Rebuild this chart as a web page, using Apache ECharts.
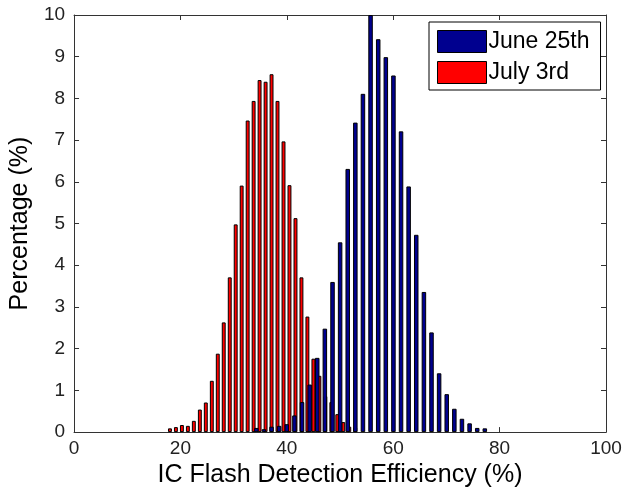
<!DOCTYPE html>
<html>
<head>
<meta charset="utf-8">
<script src="https://cdn.jsdelivr.net/npm/echarts@6/dist/echarts.min.js"></script>
<style>
html,body{margin:0;padding:0;background:#fff;}
#chart{width:631px;height:493px;}
</style>
</head>
<body>
<div id="chart"></div>
<script>
// Series names
const seriesNames = ['June 25th', 'July 3rd'];

// July 3rd histogram (bin centres in %, percentage values)
const julyCenters = [18.03, 19.15, 20.28, 21.40, 22.52, 23.65, 24.77, 25.90, 27.02, 28.14,
  29.27, 30.39, 31.51, 32.64, 33.76, 34.88, 36.01, 37.13, 38.25, 39.38,
  40.50, 41.63, 42.75, 43.87, 45.00, 46.12, 47.24, 48.37, 49.49, 50.61,
  51.74, 52.86];
const julyValues = [0.09, 0.12, 0.17, 0.15, 0.27, 0.54, 0.71, 1.23, 1.88, 2.63,
  3.71, 4.98, 5.91, 7.47, 7.94, 8.44, 8.40, 8.58, 7.94, 6.97,
  5.92, 5.13, 3.71, 2.77, 1.76, 1.35, 0.86, 0.72, 0.43, 0.24,
  0.13, 0.11];

// June 25th histogram
const juneCenters = [34.27, 35.70, 37.13, 38.56, 39.99, 41.43, 42.86, 44.29, 45.72, 47.15,
  48.59, 50.02, 51.45, 52.88, 54.31, 55.74, 57.18, 58.61, 60.04, 61.47,
  62.90, 64.33, 65.77, 67.20, 68.63, 70.06, 71.49, 72.92, 74.36, 75.79,
  77.22];
const juneValues = [0.10, 0.07, 0.13, 0.15, 0.19, 0.40, 0.72, 1.14, 1.78, 2.48,
  3.60, 4.55, 6.31, 7.42, 8.11, 10.0, 9.42, 8.99, 8.55, 7.21,
  5.89, 4.73, 3.36, 2.39, 1.41, 0.91, 0.56, 0.32, 0.21, 0.10,
  0.09];

// Axis ticks
const xTicks = [0, 20, 40, 60, 80, 100];
const yTicks = [0, 1, 2, 3, 4, 5, 6, 7, 8, 9, 10];

const FONT = '"Liberation Sans", Arial, sans-serif';
const AXC = '#333';

const chart = echarts.init(document.getElementById('chart'), null, {renderer: 'canvas'});

function pairs(xs, ys) { return xs.map((x, i) => [x, ys[i]]); }

const xCommon = {
  type: 'value', min: xTicks[0], max: xTicks[xTicks.length - 1],
  interval: xTicks[1] - xTicks[0],
  splitLine: {show: false},
  axisLine: {show: true, onZero: false, lineStyle: {color: AXC, width: 1}},
  axisTick: {show: true, inside: true, length: 5, lineStyle: {color: AXC}}
};
const yCommon = {
  type: 'value', min: yTicks[0], max: yTicks[yTicks.length - 1],
  interval: yTicks[1] - yTicks[0],
  splitLine: {show: false},
  axisLine: {show: true, onZero: false, lineStyle: {color: AXC, width: 1}},
  axisTick: {show: true, inside: true, length: 5, lineStyle: {color: AXC}}
};

chart.setOption({
  animation: false,
  backgroundColor: '#fff',
  grid: {left: 72, right: 25, top: 15, bottom: 56, containLabel: false},
  legend: {
    data: seriesNames,
    orient: 'vertical',
    left: 429, top: 22,
    itemWidth: 49, itemHeight: 22, itemGap: 8,
    padding: [8, 11, 6, 8],
    backgroundColor: '#fff',
    borderColor: '#000', borderWidth: 1, borderRadius: 0,
    icon: 'rect',
    itemStyle: {borderColor: '#000', borderWidth: 1},
    textStyle: {fontFamily: FONT, fontSize: 23, color: '#000', padding: [0, 0, 0, -3]}
  },
  xAxis: [
    Object.assign({}, xCommon, {
      position: 'bottom',
      axisLabel: {show: true, fontFamily: FONT, fontSize: 19, color: '#222', margin: 7},
      name: 'IC Flash Detection Efficiency (%)',
      nameLocation: 'middle', nameGap: 19,
      nameTextStyle: {fontFamily: FONT, fontSize: 25, color: '#000'}
    }),
    Object.assign({}, xCommon, {position: 'top', axisLabel: {show: false}})
  ],
  yAxis: [
    Object.assign({}, yCommon, {
      position: 'left',
      axisLabel: {show: true, fontFamily: FONT, fontSize: 19, color: '#222', margin: 9},
      name: 'Percentage (%)',
      nameLocation: 'middle', nameGap: 31,
      nameTextStyle: {fontFamily: FONT, fontSize: 25, color: '#000'}
    }),
    Object.assign({}, yCommon, {position: 'right', axisLabel: {show: false}})
  ],
  series: [
    {
      name: seriesNames[1], type: 'bar', xAxisIndex: 0, yAxisIndex: 0,
      data: pairs(julyCenters, julyValues),
      barWidth: 3.9,
      itemStyle: {color: '#ff0000', borderColor: '#000', borderWidth: 1},
      z: 2
    },
    {
      name: seriesNames[0], type: 'bar', xAxisIndex: 1, yAxisIndex: 0,
      data: pairs(juneCenters, juneValues),
      barWidth: 4.5,
      itemStyle: {color: '#00008f', borderColor: '#000', borderWidth: 1},
      z: 3
    }
  ]
});
</script>
</body>
</html>
